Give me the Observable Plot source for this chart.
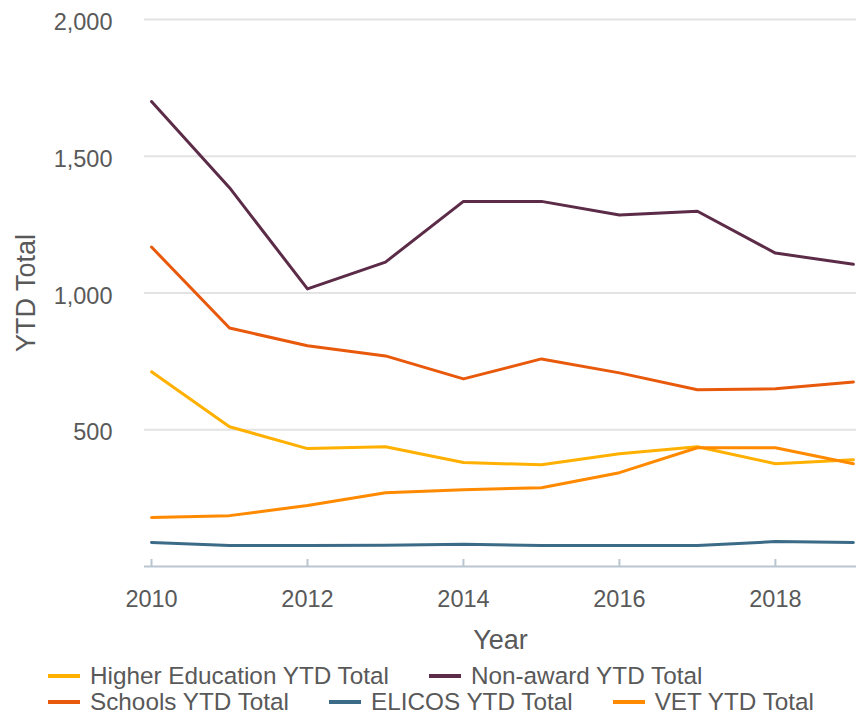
<!DOCTYPE html>
<html>
<head>
<meta charset="utf-8">
<script src="https://cdn.jsdelivr.net/npm/d3@7"></script>
<script src="https://cdn.jsdelivr.net/npm/@observablehq/plot@0.6"></script>
<style>
  body { margin: 0; background: #fff; font-family: "Liberation Sans", Arial, sans-serif; overflow: hidden; }
  #legend { display: flex; flex-wrap: wrap; column-gap: 40px; row-gap: 0; padding-left: 48px; width: 808px;
            font-size: 24.3px; line-height: 26px; color: #595959; margin-top: 8px; }
  .item { display: flex; align-items: center; white-space: nowrap; }
  .sw { width: 32px; height: 4px; margin-right: 10px; }
</style>
</head>
<body>
<div id="chart"></div>
<div id="legend"></div>
<script>
// ---- data ----
const years = [2010, 2011, 2012, 2013, 2014, 2015, 2016, 2017, 2018, 2019];
const seriesNames = ["Higher Education YTD Total", "Non-award YTD Total", "Schools YTD Total", "ELICOS YTD Total", "VET YTD Total"];
const seriesColors = ["#ffb000", "#5b2b47", "#e8590c", "#3c6b88", "#ff8a00"];
const higherEducation = [712, 511, 431, 438, 380, 372, 412, 438, 376, 390];
const nonAward = [1700, 1385, 1015, 1113, 1335, 1335, 1285, 1299, 1146, 1105];
const schools = [1168, 872, 807, 770, 686, 759, 708, 646, 650, 675];
const elicos = [88, 77, 77, 78, 81, 77, 77, 77, 91, 88];
const vet = [179, 186, 223, 270, 281, 288, 343, 434, 434, 376];
const xTicks = [2010, 2012, 2014, 2016, 2018];
const yTicks = [500, 1000, 1500, 2000];

const seriesValues = [higherEducation, nonAward, schools, elicos, vet];
const drawOrder = [1, 2, 0, 4, 3];
const data = drawOrder.flatMap(i => years.map((yr, j) => ({series: seriesNames[i], year: yr, value: seriesValues[i][j]})));

const axisColor = "#b9c5cf";
const textColor = "#595959";

const chart = Plot.plot({
  width: 856,
  height: 655,
  marginLeft: 144,
  marginRight: 0,
  marginTop: 19,
  marginBottom: 89,
  style: {fontFamily: "'Liberation Sans', Arial, sans-serif", color: textColor, background: "#fff", overflow: "visible"},
  x: {type: "linear", domain: [2009.91, 2019.04]},
  y: {domain: [0, 2000]},
  color: {domain: seriesNames, range: seriesColors},
  marks: [
    Plot.gridY(yTicks, {stroke: "#e3e3e3", strokeOpacity: 1, strokeWidth: 2}),
    Plot.axisY(yTicks, {tickSize: 0, tickPadding: 32, fontSize: 23.5, dy: 3,
      tickFormat: d3.format(","), label: "YTD Total", labelAnchor: "center", labelOffset: 129, labelArrow: "none"}),
    Plot.ruleY([0], {stroke: axisColor, strokeWidth: 2}),
    Plot.tickX(xTicks, {x: d => d, insetTop: 540, stroke: axisColor, strokeWidth: 2}),
    Plot.axisX(xTicks, {tickSize: 0, tickPadding: 24, fontSize: 23.5,
      tickFormat: d => String(d), label: "Year", labelAnchor: "center", labelOffset: 82, labelArrow: "none"}),
    Plot.line(data, {x: "year", y: "value", stroke: "series", z: "series", strokeWidth: 3, strokeLinejoin: "round", strokeLinecap: "round"})
  ]
});

// axis titles slightly larger than tick labels
chart.querySelectorAll('g[aria-label="x-axis label"], g[aria-label="y-axis label"]').forEach(g => {
  g.setAttribute("font-size", "27");
  g.querySelectorAll("text").forEach(t => t.setAttribute("font-size", "27"));
});

document.getElementById("chart").appendChild(chart);

// legend
const legend = document.getElementById("legend");
seriesNames.forEach((name, i) => {
  const item = document.createElement("div");
  item.className = "item";
  const sw = document.createElement("span");
  sw.className = "sw";
  sw.style.background = seriesColors[i];
  const label = document.createElement("span");
  label.textContent = name;
  item.appendChild(sw);
  item.appendChild(label);
  legend.appendChild(item);
});
</script>
</body>
</html>
